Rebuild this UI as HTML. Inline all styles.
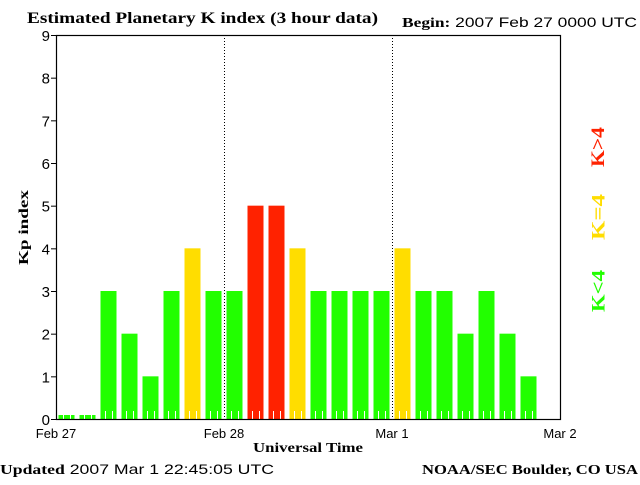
<!DOCTYPE html>
<html><head><meta charset="utf-8"><style>
body{margin:0;background:#fff;width:640px;height:480px;overflow:hidden}
svg text{font-family:"Liberation Sans",sans-serif}
.serif{font-family:"Liberation Serif",serif;font-weight:bold}
</style></head><body>
<svg id="chart" width="640" height="480" xmlns="http://www.w3.org/2000/svg">
<text class="serif" x="27" y="23" font-size="16" textLength="351" lengthAdjust="spacingAndGlyphs">Estimated Planetary K index (3 hour data)</text>
<text x="402" y="27" font-size="14" textLength="235" lengthAdjust="spacingAndGlyphs"><tspan class="serif">Begin:</tspan>  2007 Feb 27 0000 UTC</text>
<text x="0" y="474" font-size="14" textLength="274" lengthAdjust="spacingAndGlyphs"><tspan class="serif">Updated</tspan> 2007 Mar  1 22:45:05 UTC</text>
<text class="serif" x="422" y="474" font-size="14" textLength="216" lengthAdjust="spacingAndGlyphs">NOAA/SEC Boulder, CO USA</text>
<text class="serif" x="253" y="452" font-size="14" textLength="110" lengthAdjust="spacingAndGlyphs">Universal Time</text>
<text class="serif" x="28" y="265" font-size="14" textLength="75" lengthAdjust="spacingAndGlyphs" transform="rotate(-90 28 265)">Kp index</text>
<text class="serif" x="580" y="147" font-size="19" fill="#ff2200" text-anchor="middle" dominant-baseline="middle" textLength="40" lengthAdjust="spacingAndGlyphs" transform="rotate(-90 600 147) translate(0 0)"><tspan x="600">K&gt;4</tspan></text>
<text class="serif" x="600" y="217" font-size="19" fill="#ffdd00" text-anchor="middle" dominant-baseline="middle" textLength="46" lengthAdjust="spacingAndGlyphs" transform="rotate(-90 600 217)">K=4</text>
<text class="serif" x="600" y="291" font-size="19" fill="#22ff00" text-anchor="middle" dominant-baseline="middle" textLength="42" lengthAdjust="spacingAndGlyphs" transform="rotate(-90 600 291)">K&lt;4</text>
<g id="plot"></g>
</svg>
<script>
const kpValues=[0,0,3,2,1,3,4,3,3,5,5,4,3,3,3,3,4,3,3,2,3,2,1];
const dayLabels=["Feb 27","Feb 28","Mar 1","Mar 2"];
const yTicks=[0,1,2,3,4,5,6,7,8,9];
const NS="http://www.w3.org/2000/svg";
const L=56,R=560,T=35,B=419;
const slots=24;
const xScale=i=>L+(R-L)*i/slots;
const yScale=v=>B-(B-T)*v/9;
const g=document.getElementById('plot');
function mk(tag,attrs){const e=document.createElementNS(NS,tag);for(const k in attrs)e.setAttribute(k,attrs[k]);g.appendChild(e);return e;}
kpValues.forEach((v,i)=>{
  const col=v>4?"#ff2200":(v==4?"#ffdd00":"#22ff00");
  const x0=xScale(i)+2.5,w=(R-L)/slots-5;
  const y=v===0?B-4:yScale(v);
  const r=mk('rect',{x:x0,y:y,width:w,height:B-y,fill:col});
  
  
});
for(let h=1;h<72;h++){
  if(h%3===0)continue;
  const x=Math.round(L+(R-L)*h/72)+0.5;
  const t=mk('line',{x1:x,x2:x,y1:B-8,y2:B,stroke:"#fff","stroke-width":1});
  
  
}
[1,2].forEach(d=>{
  const x=L+(R-L)*d/3+0.5;
  const l=mk('line',{x1:x,x2:x,y1:T,y2:B,stroke:"#000","stroke-width":1,"stroke-dasharray":"1,2"});
  
  
});
const frame=mk('rect',{x:L+0.5,y:T+0.5,width:R-L,height:B-T,fill:"none",stroke:"#000","stroke-width":1.2});


yTicks.forEach(v=>{
  const y=yScale(v);
  const tk=mk('line',{x1:L-5,x2:L,y1:y+0.5,y2:y+0.5,stroke:"#000"});
  
  
  const t=mk('text',{x:L-6,y:y+6,"font-size":15,"text-anchor":"end"});
  t.textContent=v;
  
  
});
dayLabels.forEach((s,i)=>{
  const t=mk('text',{x:L+(R-L)*i/3,y:438,"font-size":13,"text-anchor":"middle"});
  t.textContent=s;
  
  
});
</script>
</body></html>
